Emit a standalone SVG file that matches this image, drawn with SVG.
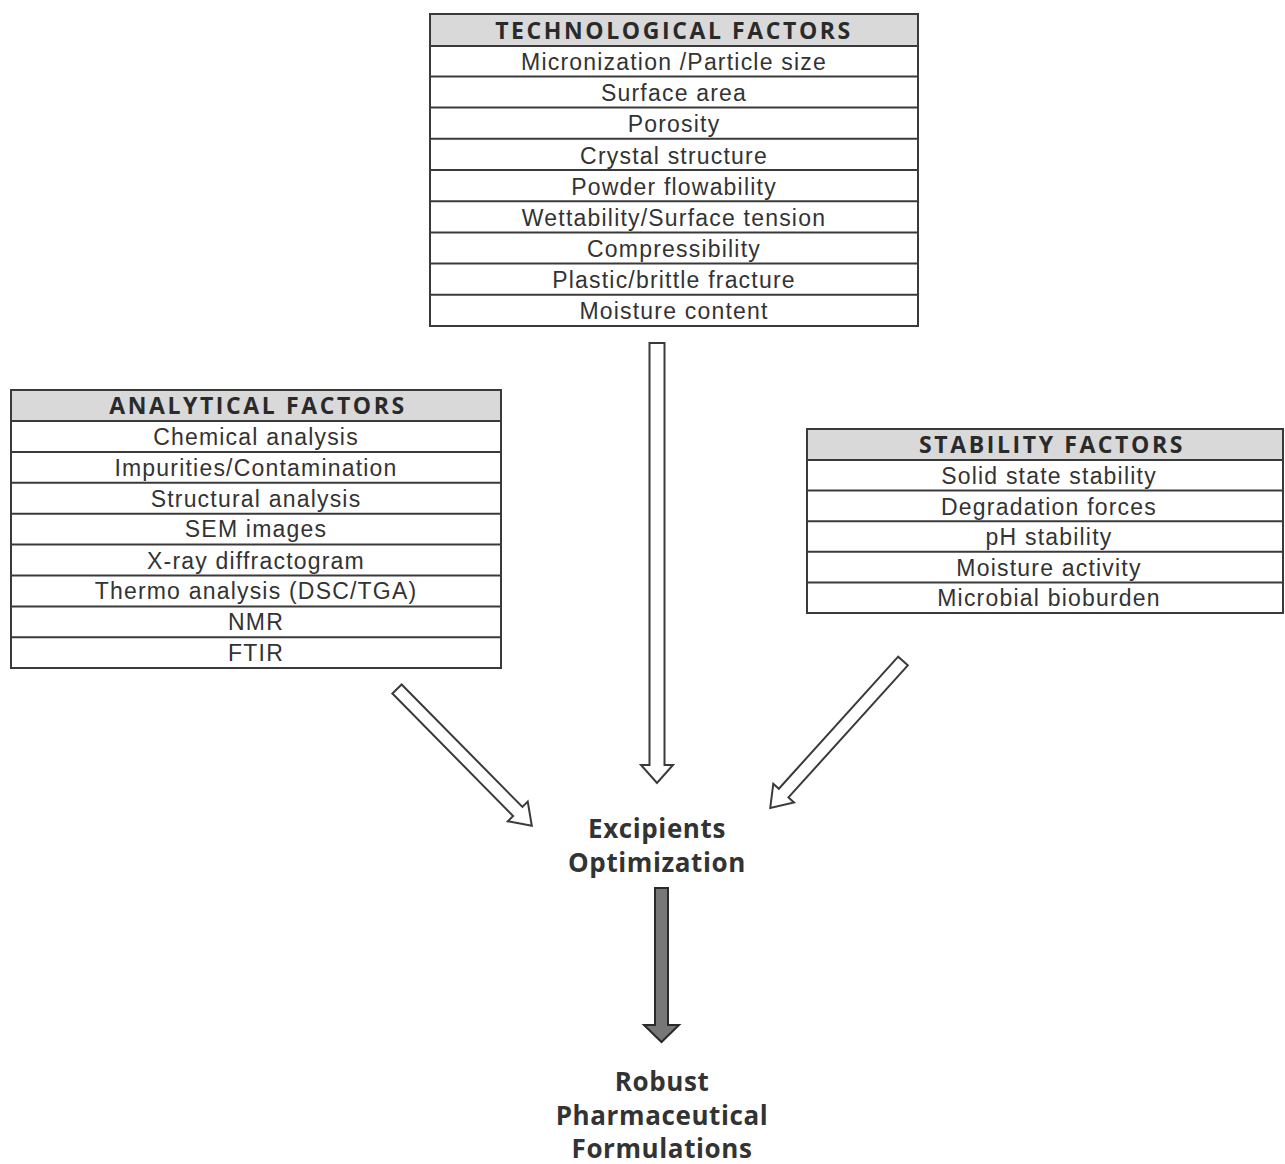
<svg xmlns="http://www.w3.org/2000/svg" width="1285" height="1164" viewBox="0 0 1285 1164">
<style>
.box{fill:#fff;stroke:#3a3a3a;stroke-width:2}
.hdr{fill:#d9d9d9;stroke:#3a3a3a;stroke-width:2}
.ln{stroke:#3a3a3a;stroke-width:2}
.t{font-family:"Liberation Sans",Arial,sans-serif;font-size:23px;fill:#333;text-anchor:middle;letter-spacing:1.2px}
.h{font-family:"Open Sans","Liberation Sans",sans-serif;font-weight:bold;font-size:23px;fill:#2a2a2a;text-anchor:middle;letter-spacing:2.6px}
.big{font-family:"Open Sans","Liberation Sans",sans-serif;font-weight:bold;font-size:26px;fill:#333;text-anchor:middle;letter-spacing:0.6px}
.arr{fill:#fff;stroke:#3a3a3a;stroke-width:2;stroke-linejoin:miter}
.darr{fill:#777;stroke:#2a2a2a;stroke-width:2}
</style>
<rect width="1285" height="1164" fill="#fff"/>
<g id="technological">
<rect class="box" x="430" y="14" width="488" height="312"/>
<rect class="hdr" x="430" y="14" width="488" height="32"/>
<line class="ln" x1="430" y1="76.4" x2="918" y2="76.4"/>
<line class="ln" x1="430" y1="107.6" x2="918" y2="107.6"/>
<line class="ln" x1="430" y1="138.8" x2="918" y2="138.8"/>
<line class="ln" x1="430" y1="170" x2="918" y2="170"/>
<line class="ln" x1="430" y1="201.2" x2="918" y2="201.2"/>
<line class="ln" x1="430" y1="232.4" x2="918" y2="232.4"/>
<line class="ln" x1="430" y1="263.6" x2="918" y2="263.6"/>
<line class="ln" x1="430" y1="294.8" x2="918" y2="294.8"/>
<text class="h" x="674" y="39">TECHNOLOGICAL FACTORS</text>
<text class="t" x="674" y="70">Micronization /Particle size</text>
<text class="t" x="674" y="101">Surface area</text>
<text class="t" x="674" y="132">Porosity</text>
<text class="t" x="674" y="164">Crystal structure</text>
<text class="t" x="674" y="195">Powder flowability</text>
<text class="t" x="674" y="226">Wettability/Surface tension</text>
<text class="t" x="674" y="257">Compressibility</text>
<text class="t" x="674" y="288">Plastic/brittle fracture</text>
<text class="t" x="674" y="319">Moisture content</text>
</g>
<g id="analytical">
<rect class="box" x="11" y="390" width="490" height="278"/>
<rect class="hdr" x="11" y="390" width="490" height="31"/>
<line class="ln" x1="11" y1="451.9" x2="501" y2="451.9"/>
<line class="ln" x1="11" y1="482.8" x2="501" y2="482.8"/>
<line class="ln" x1="11" y1="513.7" x2="501" y2="513.7"/>
<line class="ln" x1="11" y1="544.6" x2="501" y2="544.6"/>
<line class="ln" x1="11" y1="575.5" x2="501" y2="575.5"/>
<line class="ln" x1="11" y1="606.4" x2="501" y2="606.4"/>
<line class="ln" x1="11" y1="637.3" x2="501" y2="637.3"/>
<text class="h" x="258" y="414">ANALYTICAL FACTORS</text>
<text class="t" x="256" y="445">Chemical analysis</text>
<text class="t" x="256" y="476">Impurities/Contamination</text>
<text class="t" x="256" y="507">Structural analysis</text>
<text class="t" x="256" y="537">SEM images</text>
<text class="t" x="256" y="569">X-ray diffractogram</text>
<text class="t" x="256" y="599">Thermo analysis (DSC/TGA)</text>
<text class="t" x="256" y="630">NMR</text>
<text class="t" x="256" y="661">FTIR</text>
</g>
<g id="stability">
<rect class="box" x="807" y="429" width="476" height="184"/>
<rect class="hdr" x="807" y="429" width="476" height="31"/>
<line class="ln" x1="807" y1="490.6" x2="1283" y2="490.6"/>
<line class="ln" x1="807" y1="521.2" x2="1283" y2="521.2"/>
<line class="ln" x1="807" y1="551.8" x2="1283" y2="551.8"/>
<line class="ln" x1="807" y1="582.4" x2="1283" y2="582.4"/>
<text class="h" x="1052" y="453">STABILITY FACTORS</text>
<text class="t" x="1049" y="484">Solid state stability</text>
<text class="t" x="1049" y="515">Degradation forces</text>
<text class="t" x="1049" y="545">pH stability</text>
<text class="t" x="1049" y="576">Moisture activity</text>
<text class="t" x="1049" y="606">Microbial bioburden</text>
</g>
<g id="excipients">
<text class="big" x="657" y="838">Excipients</text>
<text class="big" x="657" y="872">Optimization</text>
</g>
<g id="robust">
<text class="big" x="662" y="1091">Robust</text>
<text class="big" x="662" y="1125">Pharmaceutical</text>
<text class="big" x="662" y="1158">Formulations</text>
</g>
<g id="connectors">
<polygon class="arr" points="649.5,343 664.5,343 664.5,765 673,765 657,783 641,765 649.5,765"/>
<polygon class="arr" transform="translate(397,689) rotate(45.4)" points="0,-6.5 172,-6.5 172,-14 192,0 172,14 172,6.5 0,6.5"/>
<polygon class="arr" transform="translate(903,661) rotate(132.1)" points="0,-6.5 178,-6.5 178,-14 198,0 178,14 178,6.5 0,6.5"/>
<polygon class="darr" points="655,888 668,888 668,1025 679,1025 661.5,1042 644,1025 655,1025"/>
</g>
</svg>
